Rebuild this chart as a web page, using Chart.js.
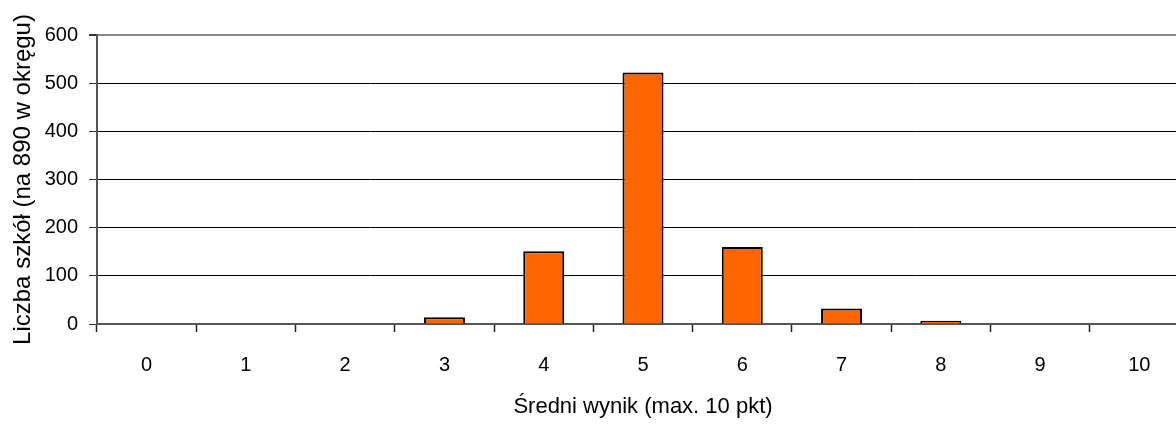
<!DOCTYPE html>
<html>
<head>
  <title>Średni wynik</title>
  <script src="https://cdn.jsdelivr.net/npm/chart.js"></script>
  <style>
    body {
      margin: 0;
      background: #fff;
      overflow: hidden;
    }
  </style>
</head>
<body>
  <canvas id="chart" width="1189" height="428"></canvas>

  <script>
    const categories = ['0', '1', '2', '3', '4', '5', '6', '7', '8', '9', '10'];
    const schools = [0, 0, 0, 14, 151, 522, 160, 32, 7, 0, 0];
    const yTicks = [0, 100, 200, 300, 400, 500, 600];

    const font = "'Liberation Sans', Arial, sans-serif";

    new Chart(document.getElementById('chart').getContext('2d'), {
      type: 'bar',
      data: {
        labels: categories,
        datasets: [{
          data: schools,
          backgroundColor: '#ff6600',
          borderColor: '#000',
          borderWidth: 2,
          categoryPercentage: 1,
          barPercentage: 0.413
        }]
      },
      options: {
        responsive: false,
        animation: false,
        layout: { padding: { top: 35, left: 0, right: 0, bottom: 0 } },
        plugins: {
          legend: { display: false },
          tooltip: { enabled: false }
        },
        scales: {
          x: {
            offset: true,
            grid: {
              offset: true,
              drawOnChartArea: false,
              tickLength: 8,
              tickWidth: 1.5,
              tickColor: '#222'
            },
            border: { color: '#555', width: 2 },
            ticks: {
              color: '#000',
              padding: 21,
              maxRotation: 0,
              font: { family: font, size: 20 }
            },
            title: {
              display: true,
              text: 'Średni wynik (max. 10 pkt)',
              color: '#000',
              padding: { top: 0, bottom: 8 },
              font: { family: font, size: 22 }
            },
            afterFit: s => { s.height = 104; }
          },
          y: {
            min: 0,
            max: 600,
            afterBuildTicks: s => { s.ticks = yTicks.map(v => ({ value: v })); },
            grid: {
              color: ctx => ctx.tick && ctx.tick.value === 600 ? '#888' : '#000',
              lineWidth: ctx => ctx.tick && ctx.tick.value === 600 ? 2 : 1,
              tickLength: 8,
              tickColor: '#333'
            },
            border: { color: '#555', width: 2 },
            ticks: {
              color: '#000',
              padding: 11,
              font: { family: font, size: 20 }
            },
            title: {
              display: true,
              text: 'Liczba szkół (na 890 w okręgu)',
              color: '#000',
              padding: { top: 9, bottom: 0 },
              font: { family: font, size: 24 }
            },
            afterFit: s => { s.width = 97; }
          }
        }
      }
    });
  </script>
</body>
</html>
